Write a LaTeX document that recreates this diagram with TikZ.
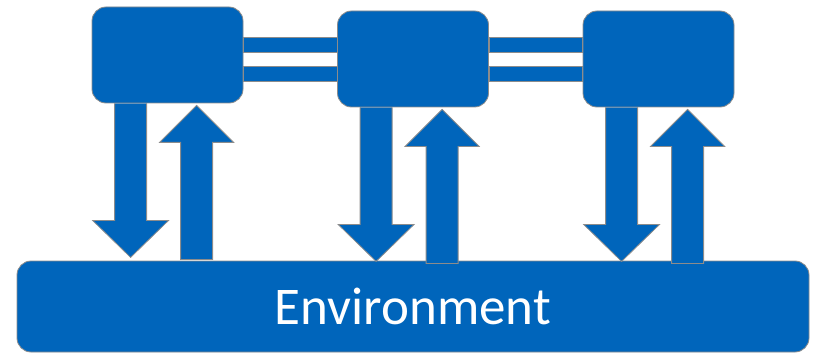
\documentclass[tikz,border=0pt]{standalone}
\usepackage{fontspec}
\setmainfont{Carlito}
\usetikzlibrary{backgrounds}
\definecolor{boxblue}{RGB}{0,101,187}
\definecolor{edgegray}{RGB}{140,140,140}
\tikzset{
  px/.style={x=1pt, y=-1pt},
  agent/.style={draw=edgegray, fill=boxblue, line width=0.8pt, rounded corners=14pt,
                minimum width=151pt, minimum height=96pt, inner sep=0pt},
  envbox/.style={agent, minimum width=792pt, minimum height=91pt, text=white,
                 font=\fontsize{53}{60}\selectfont},
  blockarrow/.style={draw=edgegray, fill=boxblue, line width=0.8pt, line join=miter},
  link/.style={draw=edgegray, fill=boxblue, line width=0.8pt},
}

\begin{document}
\begin{tikzpicture}[px]
  \useasboundingbox (0,0) rectangle (815,353);
  % agents
  \node[agent] (ag1) at (167.5,55) {};
  \node[agent] (ag2) at (413,59) {};
  \node[agent] (ag3) at (658.5,59) {};
  \begin{pgfonlayer}{background}
    \node[envbox] (env) at (413,306.5) {Environment};
    % action (down) and observation (up) arrows
    \foreach \ag in {ag1,ag2,ag3} {
      \begin{scope}[shift={(\ag.south west)}]
        \draw[blockarrow] (23,0) -- (23,117) -- (1,117) -- (39,154) -- (77,117) -- (55,117) -- (55,0);
        \draw[blockarrow] (89,156) -- (89,39) -- (68,39) -- (105,2) -- (142,39) -- (121,39) -- (121,156) -- cycle;
      \end{scope}
    }
  \end{pgfonlayer}
  % communication links
  \draw[link] (ag1.east |- 0,37) rectangle (ag2.west |- 0,52);
  \draw[link] (ag1.east |- 0,66) rectangle (ag2.west |- 0,81);
  \draw[link] (ag2.east |- 0,37) rectangle (ag3.west |- 0,52);
  \draw[link] (ag2.east |- 0,66) rectangle (ag3.west |- 0,81);
\end{tikzpicture}
\end{document}
